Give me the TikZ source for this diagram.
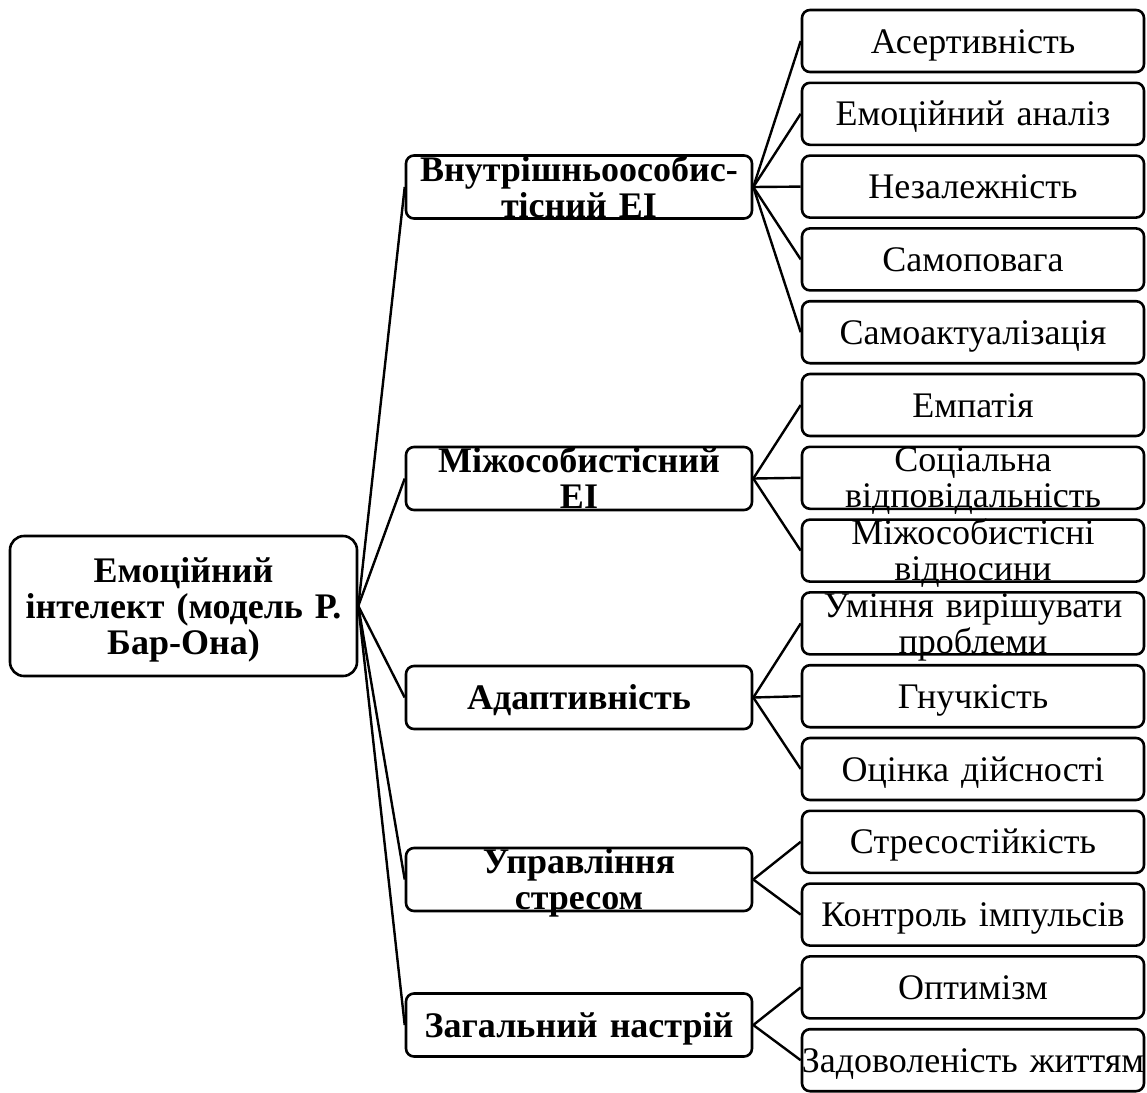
\documentclass[tikz,border=0pt]{standalone}
\usepackage{fontspec}
\setmainfont{Liberation Serif}
\begin{document}
\begin{tikzpicture}[x=1pt,y=-1pt,
  box/.style={draw=black, line width=2.6pt, rounded corners=8pt, fill=white, inner sep=0pt},
  rootbox/.style={box, rounded corners=14pt, minimum width=347pt, minimum height=140pt},
  midbox/.style={box, minimum width=346pt, minimum height=63pt},
  leafbox/.style={box, minimum width=342pt, minimum height=62pt},
  txt/.style={inner sep=0pt, text width=420pt, align=center, text height=24pt, text depth=0pt,
    font=\fontsize{36}{36}\selectfont},
  txttwo/.style={txt, text depth=36pt},
  txtthree/.style={txt, text depth=72pt},
  bold/.style={font=\fontsize{36}{36}\selectfont\bfseries},
  link/.style={line width=2.4pt}
]
\useasboundingbox (0,0) rectangle (1147,1092);

% root
\node[rootbox] (root) at (183.5,606) {};

% second level
\node[midbox] (m1) at (579,187) {};
\node[midbox] (m2) at (579,478.5) {};
\node[midbox] (m3) at (579,697.5) {};
\node[midbox] (m4) at (579,879.5) {};
\node[midbox] (m5) at (579,1025) {};

% leaves
\foreach \i in {0,...,14} {
  \node[leafbox] (r\i) at (973,41+72.8*\i) {};
}

% connectors
\foreach \m in {m1,m2,m3,m4,m5} \draw[link] (root.east) -- (\m.west);
\foreach \r in {r0,r1,r2,r3,r4} \draw[link] (m1.east) -- (\r.west);
\foreach \r in {r5,r6,r7} \draw[link] (m2.east) -- (\r.west);
\foreach \r in {r8,r9,r10} \draw[link] (m3.east) -- (\r.west);
\foreach \r in {r11,r12} \draw[link] (m4.east) -- (\r.west);
\foreach \r in {r13,r14} \draw[link] (m5.east) -- (\r.west);

% texts
\node[txtthree, bold] (roott) at (root.center) {Емоційний\\інтелект (модель Р.\\Бар-Она)};
\node[txttwo, bold] (m1t) at (m1.center) {Внутрішньоособис-\\тісний ЕІ};
\node[txttwo, bold] (m2t) at (m2.center) {Міжособистісний\\ЕІ};
\node[txt, bold] (m3t) at (m3.center) {Адаптивність};
\node[txttwo, bold] (m4t) at (m4.center) {Управління\\стресом};
\node[txt, bold] (m5t) at (m5.center) {Загальний настрій};

\node[txt] (r0t) at (r0.center) {Асертивність};
\node[txt] (r1t) at (r1.center) {Емоційний аналіз};
\node[txt] (r2t) at (r2.center) {Незалежність};
\node[txt] (r3t) at (r3.center) {Самоповага};
\node[txt] (r4t) at (r4.center) {Самоактуалізація};
\node[txt] (r5t) at (r5.center) {Емпатія};
\node[txttwo] (r6t) at (r6.center) {Соціальна\\відповідальність};
\node[txttwo] (r7t) at (r7.center) {Міжособистісні\\відносини};
\node[txttwo] (r8t) at (r8.center) {Уміння вирішувати\\проблеми};
\node[txt] (r9t) at (r9.center) {Гнучкість};
\node[txt] (r10t) at (r10.center) {Оцінка дійсності};
\node[txt] (r11t) at (r11.center) {Стресостійкість};
\node[txt] (r12t) at (r12.center) {Контроль імпульсів};
\node[txt] (r13t) at (r13.center) {Оптимізм};
\node[txt] (r14t) at (r14.center) {Задоволеність життям};
\end{tikzpicture}
\end{document}
